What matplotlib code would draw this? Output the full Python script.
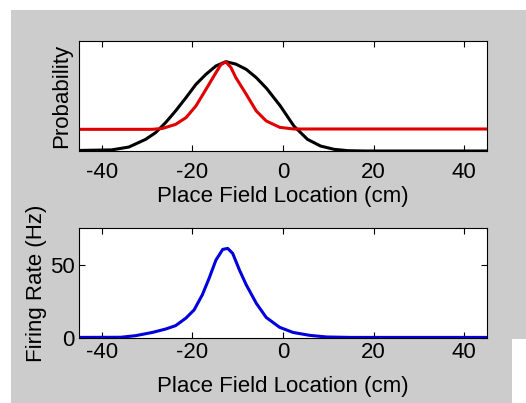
import matplotlib.pyplot as plt
from matplotlib.patches import Rectangle

plt.rcParams['font.family'] = ['Liberation Sans', 'DejaVu Sans']
plt.rcParams['axes.unicode_minus'] = False

# top panel: probability curves (arbitrary units)
x_black = [-45, -37.8, -34.0, -30.3, -28.1, -25.9, -23.7, -21.4, -19.2, -17.0, -14.8, -12.6,
           -10.4, -8.1, -5.9, -3.6, -0.6, 2.4, 5.4, 8.3, 11.3, 14.3, 18, 45]
p_black = [0.005, 0.01, 0.036, 0.106, 0.167, 0.258, 0.364, 0.485, 0.606, 0.697, 0.773, 0.812,
           0.79, 0.742, 0.667, 0.568, 0.41, 0.227, 0.106, 0.045, 0.015, 0.003, 0.0, 0.0]

x_red = [-45, -28.9, -26.6, -23.7, -21.4, -19.2, -17.0, -14.8, -13.7, -12.6, -11.5, -10.4,
         -8.1, -5.9, -3.7, -0.7, 2.4, 45]
p_red = [0.197, 0.197, 0.205, 0.242, 0.303, 0.41, 0.56, 0.712, 0.785, 0.81, 0.76, 0.667,
         0.515, 0.364, 0.273, 0.215, 0.2, 0.2]

# bottom panel: firing rate (Hz)
x_blue = [-45, -35.8, -32.5, -28.8, -25.9, -23.7, -21.4, -19.6, -17.8, -16.3, -14.8, -13.3,
          -12.2, -11.1, -9.6, -8.1, -5.9, -3.7, -0.75, 2.2, 5.9, 9.6, 15, 45]
rate_blue = [0.4, 0.5, 1.6, 3.8, 6.1, 8.4, 13.6, 19.2, 29.4, 40.7, 53.1, 60.4,
             61.1, 57.7, 46.3, 36.2, 23.7, 14.0, 7.3, 3.8, 1.8, 0.7, 0.4, 0.4]

xticks = [-40, -20, 0, 20, 40]

fig = plt.figure(figsize=(5.26, 4.03), dpi=100)
fig.patch.set_facecolor('white')
# gray panel background like the original screenshot
fig.patches.append(Rectangle((11 / 526, 0.5 / 403), 515 / 526, 393 / 403,
                             transform=fig.transFigure, facecolor='#cccccc', edgecolor='none', zorder=-2))
fig.patches.append(Rectangle((512 / 526, 0), 14 / 526, 64 / 403,
                             transform=fig.transFigure, facecolor='white', edgecolor='none', zorder=-1))

ax1 = fig.add_axes([79 / 526, 1 - 151 / 403, 408 / 526, 110 / 403])
ax2 = fig.add_axes([79 / 526, 1 - 338 / 403, 408 / 526, 110 / 403])

ax1.plot(x_black, p_black, color='black', lw=2.2, solid_joinstyle='round')
ax1.plot(x_red, p_red, color='#e00000', lw=2.2, solid_joinstyle='round')
ax1.set_ylim(0, 1)
ax1.set_yticks([])
ax1.set_ylabel('Probability', fontsize=16, labelpad=5)

ax2.plot(x_blue, rate_blue, color='#0000dd', lw=2.2, solid_joinstyle='round')
ax2.set_ylim(0, 75)
ax2.set_yticks([0, 50])
ax2.set_ylabel('Firing Rate (Hz)', fontsize=16, labelpad=2)

for ax in (ax1, ax2):
    ax.set_xlim(-45, 45)
    ax.set_xticks(xticks)
    ax.tick_params(direction='in', top=True, right=True, labelsize=16, length=4, pad=3)
    for s in ax.spines.values():
        s.set_linewidth(0.8)

ax1.tick_params(axis='x', pad=8)
ax1.set_xlabel('Place Field Location (cm)', fontsize=16, labelpad=2)
ax2.set_xlabel('Place Field Location (cm)', fontsize=16, labelpad=9)

fig.savefig('out.png', dpi=100)
